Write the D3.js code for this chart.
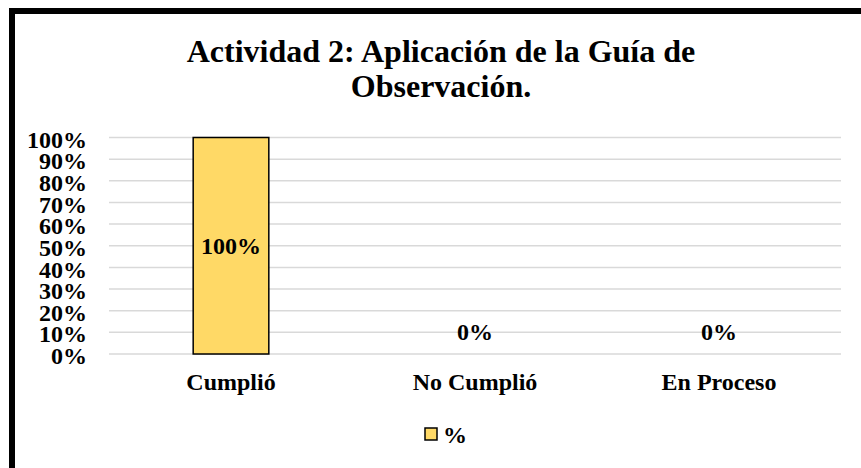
<!DOCTYPE html>
<html>
<head>
<meta charset="utf-8">
<script src="https://cdn.jsdelivr.net/npm/d3@7"></script>
<style>
  body { margin: 0; background: #fff; }
  text { font-family: "Liberation Serif", "Times New Roman", serif; font-weight: bold; fill: #000; }
</style>
</head>
<body>
<script>
// Chart size
var width = 861;
var height = 468;

// Data
var categories = ["Cumplió", "No Cumplió", "En Proceso"];
var values = [1, 0, 0];
var valueLabels = ["100%", "0%", "0%"];
var yTicks = [0, 0.1, 0.2, 0.3, 0.4, 0.5, 0.6, 0.7, 0.8, 0.9, 1];
var titleLines = ["Actividad 2: Aplicación de la Guía de", "Observación."];
var seriesName = "%";

var barColor = "#ffd966";

var svg = d3.select("body")
  .append("svg")
  .attr("width", width)
  .attr("height", height);

// outer frame
svg.append("rect")
  .attr("x", 12)
  .attr("y", 11)
  .attr("width", width + 20)
  .attr("height", height + 20)
  .style("fill", "none")
  .style("stroke", "#000")
  .style("stroke-width", 6);

// title
svg.selectAll(".title")
  .data(titleLines)
  .enter()
  .append("text")
  .attr("class", "title")
  .attr("x", 441)
  .attr("y", function(d, i) { return 62 + i * 35; })
  .attr("text-anchor", "middle")
  .style("font-size", "32px")
  .text(function(d) { return d; });

var plotLeft = 109, plotRight = 841, plotTop = 137.5, plotBottom = 354;

var x = d3.scaleBand()
  .domain(categories)
  .range([plotLeft, plotRight])
  .paddingInner(0.69)
  .paddingOuter(0.345);

var y = d3.scaleLinear()
  .domain([0, 1])
  .range([plotBottom, plotTop]);

// gridlines
svg.append("g")
  .selectAll("line")
  .data(yTicks)
  .enter()
  .append("line")
  .attr("x1", plotLeft)
  .attr("x2", plotRight)
  .attr("y1", function(d) { return y(d); })
  .attr("y2", function(d) { return y(d); })
  .style("stroke", "#d9d9d9")
  .style("stroke-width", 1.5);

// y axis labels
var yAxis = d3.axisLeft(y)
  .tickValues(yTicks)
  .tickFormat(d3.format(".0%"))
  .tickSize(0)
  .tickPadding(0);

svg.append("g")
  .attr("transform", "translate(87,0)")
  .call(yAxis)
  .call(function(g) { g.select(".domain").remove(); })
  .selectAll("text")
  .attr("dy", "0.4em")
  .style("font-size", "24px")
  .style("font-family", "Liberation Serif, serif");

// bars
svg.selectAll(".bar")
  .data(values)
  .enter()
  .append("rect")
  .attr("class", "bar")
  .attr("x", function(d, i) { return x(categories[i]); })
  .attr("y", function(d) { return y(d); })
  .attr("width", x.bandwidth())
  .attr("height", function(d) { return y(0) - y(d); })
  .style("fill", barColor)
  .style("stroke", function(d) { return d > 0 ? "#000" : "none"; })
  .style("stroke-width", 1.5);

// value labels
svg.selectAll(".vlabel")
  .data(values)
  .enter()
  .append("text")
  .attr("class", "vlabel")
  .attr("x", function(d, i) { return x(categories[i]) + x.bandwidth() / 2; })
  .attr("y", function(d) { return d > 0 ? y(d / 2) : y(d) - 22; })
  .attr("dy", "0.35em")
  .attr("text-anchor", "middle")
  .style("font-size", "24px")
  .text(function(d, i) { return valueLabels[i]; });

// x axis labels
var xAxis = d3.axisBottom(x).tickSize(0).tickPadding(0);
svg.append("g")
  .attr("transform", "translate(0," + (plotBottom + 28) + ")")
  .call(xAxis)
  .call(function(g) { g.select(".domain").remove(); })
  .selectAll("text")
  .attr("dy", "0.35em")
  .style("font-size", "24px")
  .style("font-family", "Liberation Serif, serif");

// legend
var legend = svg.append("g")
  .attr("transform", "translate(425,428)");
legend.append("rect")
  .attr("width", 12)
  .attr("height", 12)
  .style("fill", barColor)
  .style("stroke", "#000")
  .style("stroke-width", 1.5);
legend.append("text")
  .attr("x", 18)
  .attr("y", 7)
  .attr("dy", "0.35em")
  .style("font-size", "24px")
  .text(seriesName);
</script>
</body>
</html>
